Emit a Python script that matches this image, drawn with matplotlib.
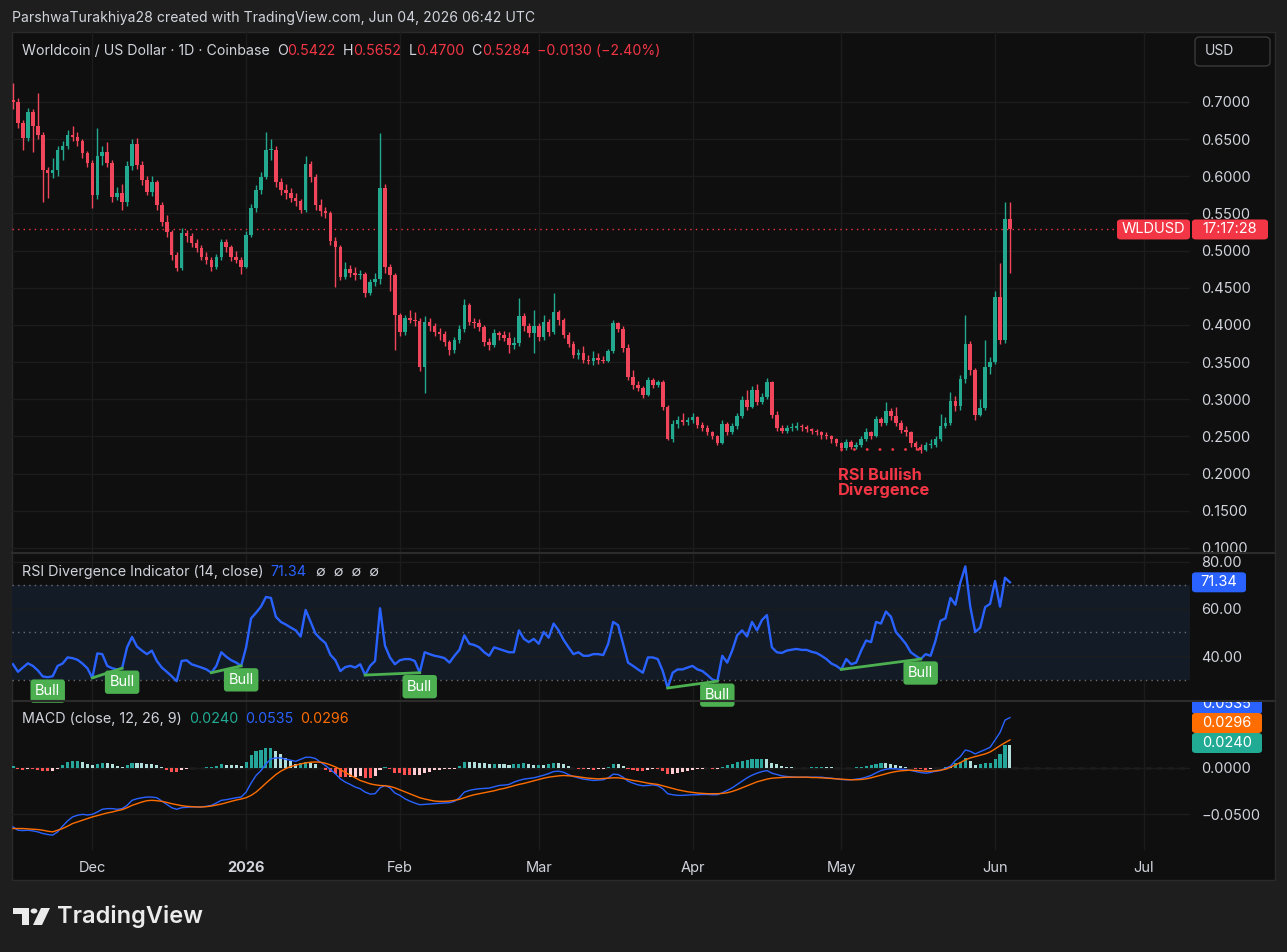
import matplotlib
matplotlib.use('Agg')
import matplotlib.pyplot as plt
import matplotlib.dates as mdates
import matplotlib.transforms as mtransforms
from matplotlib.patches import Rectangle, FancyBboxPatch, Circle, Polygon
import numpy as np
import pandas as pd

plt.rcParams['font.family'] = ['Inter', 'DejaVu Sans']

W, H = 1287, 952

# ---- data (daily candles, 2025-11-15 .. 2026-06-04) ----
first_open = 0.703
closes = [
    0.700, 0.672, 0.652, 0.687, 0.667, 0.655, 0.608, 0.604, 0.609, 0.635,
    0.640, 0.656, 0.653, 0.648, 0.631, 0.618, 0.575, 0.627, 0.632, 0.618,
    0.572, 0.577, 0.565, 0.614, 0.643, 0.615, 0.595, 0.579, 0.592, 0.561,
    0.538, 0.525, 0.494, 0.477, 0.523, 0.520, 0.510, 0.503, 0.492, 0.488,
    0.478, 0.491, 0.511, 0.505, 0.492, 0.488, 0.478, 0.521, 0.557, 0.582,
    0.599, 0.635, 0.635, 0.592, 0.582, 0.578, 0.571, 0.567, 0.555, 0.617,
    0.599, 0.561, 0.553, 0.550, 0.513, 0.505, 0.465, 0.475, 0.470, 0.467,
    0.468, 0.443, 0.458, 0.462, 0.584, 0.478, 0.467, 0.413, 0.390, 0.409,
    0.407, 0.405, 0.343, 0.404, 0.398, 0.390, 0.388, 0.377, 0.366, 0.380,
    0.394, 0.427, 0.404, 0.402, 0.397, 0.377, 0.373, 0.389, 0.386, 0.383,
    0.373, 0.376, 0.412, 0.398, 0.389, 0.398, 0.384, 0.404, 0.391, 0.418,
    0.407, 0.387, 0.375, 0.360, 0.362, 0.353, 0.352, 0.355, 0.353, 0.352,
    0.365, 0.403, 0.394, 0.369, 0.330, 0.319, 0.315, 0.306, 0.326, 0.319,
    0.323, 0.290, 0.247, 0.267, 0.272, 0.270, 0.272, 0.276, 0.266, 0.262,
    0.256, 0.250, 0.241, 0.267, 0.256, 0.264, 0.278, 0.299, 0.290, 0.312,
    0.296, 0.303, 0.323, 0.279, 0.262, 0.257, 0.262, 0.262, 0.264, 0.263,
    0.260, 0.257, 0.256, 0.252, 0.250, 0.246, 0.241, 0.234, 0.242, 0.236,
    0.239, 0.246, 0.256, 0.250, 0.273, 0.268, 0.284, 0.277, 0.268, 0.259,
    0.256, 0.241, 0.236, 0.232, 0.238, 0.239, 0.246, 0.264, 0.268, 0.298,
    0.291, 0.327, 0.374, 0.339, 0.279, 0.288, 0.343, 0.350, 0.438, 0.380,
    0.5422, 0.5284,
]
highs = [
    0.725, 0.705, 0.676, 0.692, 0.690, 0.712, 0.660, 0.612, 0.625, 0.640,
    0.648, 0.662, 0.668, 0.660, 0.650, 0.634, 0.622, 0.665, 0.640, 0.646,
    0.622, 0.585, 0.590, 0.620, 0.650, 0.652, 0.620, 0.600, 0.600, 0.595,
    0.565, 0.548, 0.528, 0.498, 0.530, 0.528, 0.524, 0.515, 0.507, 0.498,
    0.492, 0.496, 0.516, 0.515, 0.508, 0.500, 0.492, 0.526, 0.562, 0.588,
    0.606, 0.660, 0.650, 0.640, 0.598, 0.590, 0.584, 0.578, 0.570, 0.627,
    0.620, 0.603, 0.570, 0.558, 0.553, 0.518, 0.508, 0.485, 0.480, 0.478,
    0.474, 0.471, 0.462, 0.470, 0.658, 0.590, 0.482, 0.470, 0.416, 0.414,
    0.420, 0.418, 0.410, 0.412, 0.410, 0.402, 0.396, 0.392, 0.380, 0.384,
    0.400, 0.435, 0.430, 0.410, 0.408, 0.400, 0.382, 0.394, 0.392, 0.392,
    0.390, 0.384, 0.436, 0.416, 0.402, 0.420, 0.402, 0.414, 0.408, 0.443,
    0.420, 0.410, 0.390, 0.378, 0.368, 0.372, 0.360, 0.365, 0.362, 0.358,
    0.368, 0.406, 0.404, 0.398, 0.375, 0.340, 0.324, 0.318, 0.330, 0.328,
    0.326, 0.326, 0.292, 0.272, 0.278, 0.282, 0.276, 0.282, 0.278, 0.270,
    0.266, 0.258, 0.252, 0.272, 0.270, 0.268, 0.282, 0.305, 0.312, 0.318,
    0.320, 0.308, 0.329, 0.325, 0.284, 0.266, 0.266, 0.268, 0.270, 0.267,
    0.266, 0.262, 0.260, 0.258, 0.256, 0.252, 0.248, 0.243, 0.246, 0.245,
    0.243, 0.250, 0.262, 0.258, 0.278, 0.276, 0.296, 0.288, 0.290, 0.272,
    0.264, 0.258, 0.244, 0.240, 0.242, 0.246, 0.250, 0.280, 0.276, 0.310,
    0.304, 0.333, 0.414, 0.378, 0.342, 0.300, 0.380, 0.357, 0.446, 0.483,
    0.566, 0.5652,
]
lows = [
    0.690, 0.665, 0.635, 0.648, 0.632, 0.650, 0.565, 0.571, 0.598, 0.600,
    0.622, 0.637, 0.648, 0.640, 0.625, 0.612, 0.557, 0.570, 0.615, 0.612,
    0.565, 0.568, 0.555, 0.560, 0.608, 0.610, 0.588, 0.575, 0.574, 0.555,
    0.533, 0.518, 0.488, 0.472, 0.474, 0.512, 0.505, 0.498, 0.487, 0.482,
    0.473, 0.475, 0.488, 0.498, 0.486, 0.483, 0.468, 0.476, 0.518, 0.552,
    0.576, 0.596, 0.622, 0.585, 0.575, 0.570, 0.565, 0.560, 0.550, 0.552,
    0.592, 0.555, 0.547, 0.544, 0.508, 0.451, 0.460, 0.462, 0.464, 0.460,
    0.462, 0.437, 0.440, 0.452, 0.455, 0.470, 0.445, 0.366, 0.385, 0.386,
    0.402, 0.398, 0.338, 0.308, 0.392, 0.385, 0.380, 0.372, 0.360, 0.362,
    0.376, 0.390, 0.400, 0.396, 0.392, 0.372, 0.366, 0.370, 0.380, 0.378,
    0.362, 0.368, 0.372, 0.392, 0.384, 0.362, 0.378, 0.380, 0.385, 0.388,
    0.400, 0.382, 0.370, 0.355, 0.354, 0.349, 0.347, 0.346, 0.348, 0.349,
    0.350, 0.362, 0.390, 0.364, 0.326, 0.314, 0.311, 0.302, 0.304, 0.315,
    0.316, 0.286, 0.245, 0.242, 0.262, 0.266, 0.266, 0.268, 0.262, 0.258,
    0.252, 0.246, 0.238, 0.240, 0.252, 0.253, 0.260, 0.275, 0.286, 0.288,
    0.292, 0.294, 0.300, 0.275, 0.258, 0.254, 0.255, 0.258, 0.259, 0.258,
    0.256, 0.253, 0.252, 0.247, 0.246, 0.241, 0.237, 0.230, 0.232, 0.233,
    0.233, 0.236, 0.244, 0.247, 0.249, 0.264, 0.266, 0.272, 0.264, 0.255,
    0.250, 0.236, 0.232, 0.228, 0.230, 0.234, 0.236, 0.244, 0.262, 0.266,
    0.284, 0.286, 0.322, 0.332, 0.272, 0.277, 0.286, 0.334, 0.348, 0.375,
    0.376, 0.4700,
]
rsi = [
    36.5, 33.3, 35.1, 36.9, 35.8, 33.9, 31.3, 31.0, 31.4, 35.8,
    36.8, 39.4, 39.1, 38.4, 36.8, 34.8, 30.7, 41.1, 40.8, 35.8,
    34.8, 34.3, 34.8, 43.7, 48.1, 44.0, 42.3, 40.8, 42.3, 37.9,
    35.1, 33.3, 31.4, 29.3, 37.9, 38.2, 36.5, 35.8, 35.1, 34.3,
    32.9, 35.8, 41.6, 39.7, 38.2, 37.2, 35.8, 43.7, 56.0, 58.4,
    61.0, 65.1, 64.7, 56.7, 54.5, 53.4, 52.1, 50.9, 48.3, 59.6,
    54.5, 49.5, 47.3, 45.5, 40.5, 38.2, 33.6, 35.3, 35.8, 35.1,
    36.5, 31.9, 35.8, 37.9, 60.3, 44.4, 39.4, 36.5, 38.2, 38.7,
    38.7, 37.9, 32.9, 41.6, 40.8, 40.1, 39.7, 39.1, 37.2, 40.1,
    42.6, 48.8, 45.2, 44.7, 43.7, 41.6, 40.1, 43.7, 43.0, 42.3,
    41.6, 41.6, 50.9, 47.3, 45.9, 47.3, 45.2, 50.2, 47.8, 53.8,
    50.9, 46.9, 43.7, 40.8, 41.6, 40.1, 40.1, 40.8, 40.8, 40.4,
    45.2, 54.5, 53.1, 45.2, 37.2, 35.8, 34.3, 32.9, 39.4, 39.4,
    38.7, 33.6, 26.4, 32.9, 34.3, 34.3, 35.1, 35.8, 34.3, 33.6,
    31.9, 30.0, 29.3, 40.1, 37.2, 42.3, 48.8, 50.9, 48.3, 54.5,
    50.9, 55.3, 57.4, 43.7, 41.6, 41.3, 42.3, 42.7, 43.0, 42.6,
    42.6, 41.8, 41.3, 40.1, 38.7, 36.8, 35.8, 34.3, 38.7, 36.5,
    37.2, 42.3, 46.6, 45.9, 54.5, 53.8, 58.9, 56.7, 50.2, 47.8,
    45.2, 41.6, 40.1, 38.7, 40.8, 40.1, 46.6, 55.0, 56.0, 64.7,
    61.8, 71.2, 78.1, 61.0, 50.2, 52.1, 60.8, 62.2, 71.9, 61.0,
    73.3, 71.34,
]
macd = [
    -0.0635, -0.0671, -0.0675, -0.0671, -0.0678, -0.0689, -0.0706, -0.0717, -0.0724, -0.0689,
    -0.0628, -0.0572, -0.0529, -0.0511, -0.0501, -0.0508, -0.0501, -0.0476, -0.0447, -0.0440,
    -0.0440, -0.0447, -0.0440, -0.0405, -0.0351, -0.0334, -0.0323, -0.0316, -0.0316, -0.0323,
    -0.0359, -0.0394, -0.0430, -0.0447, -0.0430, -0.0426, -0.0422, -0.0422, -0.0422, -0.0415,
    -0.0405, -0.0380, -0.0351, -0.0344, -0.0334, -0.0323, -0.0316, -0.0263, -0.0167, -0.0085,
    -0.0032, 0.0039, 0.0092, 0.0103, 0.0103, 0.0089, 0.0078, 0.0067, 0.0089, 0.0110,
    0.0110, 0.0096, 0.0057, 0.0021, -0.0021, -0.0067, -0.0121, -0.0156, -0.0181, -0.0209,
    -0.0227, -0.0263, -0.0284, -0.0280, -0.0217, -0.0192, -0.0217, -0.0273, -0.0298, -0.0334,
    -0.0359, -0.0380, -0.0398, -0.0394, -0.0391, -0.0387, -0.0383, -0.0380, -0.0376, -0.0362,
    -0.0323, -0.0263, -0.0245, -0.0234, -0.0227, -0.0224, -0.0220, -0.0206, -0.0192, -0.0188,
    -0.0181, -0.0156, -0.0138, -0.0124, -0.0117, -0.0110, -0.0096, -0.0082, -0.0064, -0.0043,
    -0.0039, -0.0050, -0.0075, -0.0096, -0.0110, -0.0124, -0.0131, -0.0138, -0.0135, -0.0131,
    -0.0110, -0.0071, -0.0075, -0.0103, -0.0146, -0.0167, -0.0185, -0.0195, -0.0192, -0.0185,
    -0.0195, -0.0227, -0.0280, -0.0291, -0.0298, -0.0298, -0.0295, -0.0291, -0.0291, -0.0288,
    -0.0288, -0.0291, -0.0291, -0.0270, -0.0245, -0.0217, -0.0181, -0.0146, -0.0110, -0.0082,
    -0.0060, -0.0043, -0.0032, -0.0060, -0.0075, -0.0089, -0.0096, -0.0099, -0.0103, -0.0103,
    -0.0103, -0.0103, -0.0103, -0.0103, -0.0110, -0.0114, -0.0121, -0.0128, -0.0131, -0.0131,
    -0.0124, -0.0117, -0.0103, -0.0085, -0.0057, -0.0032, -0.0018, -0.0011, -0.0014, -0.0018,
    -0.0021, -0.0032, -0.0043, -0.0053, -0.0060, -0.0053, -0.0039, -0.0032, -0.0007, 0.0014,
    0.0075, 0.0117, 0.0188, 0.0174, 0.0146, 0.0170, 0.0192, 0.0217, 0.0295, 0.0376,
    0.0508, 0.0535,
]
signal = [
    -0.0653, -0.0653, -0.0653, -0.0657, -0.0660, -0.0664, -0.0671, -0.0682, -0.0689, -0.0671,
    -0.0653, -0.0628, -0.0600, -0.0582, -0.0564, -0.0547, -0.0529, -0.0515, -0.0501, -0.0486,
    -0.0476, -0.0462, -0.0451, -0.0430, -0.0405, -0.0387, -0.0369, -0.0355, -0.0351, -0.0355,
    -0.0362, -0.0373, -0.0387, -0.0398, -0.0408, -0.0415, -0.0419, -0.0422, -0.0422, -0.0419,
    -0.0412, -0.0401, -0.0391, -0.0376, -0.0362, -0.0348, -0.0337, -0.0323, -0.0298, -0.0263,
    -0.0217, -0.0167, -0.0121, -0.0075, -0.0039, -0.0011, 0.0011, 0.0025, 0.0039, 0.0050,
    0.0057, 0.0060, 0.0057, 0.0046, 0.0028, 0.0007, -0.0021, -0.0053, -0.0082, -0.0110,
    -0.0138, -0.0156, -0.0174, -0.0185, -0.0192, -0.0195, -0.0202, -0.0217, -0.0238, -0.0259,
    -0.0280, -0.0302, -0.0323, -0.0337, -0.0348, -0.0359, -0.0362, -0.0362, -0.0359, -0.0351,
    -0.0341, -0.0323, -0.0305, -0.0291, -0.0280, -0.0270, -0.0259, -0.0249, -0.0234, -0.0224,
    -0.0209, -0.0195, -0.0181, -0.0170, -0.0156, -0.0142, -0.0128, -0.0114, -0.0103, -0.0096,
    -0.0089, -0.0085, -0.0089, -0.0092, -0.0099, -0.0107, -0.0114, -0.0117, -0.0121, -0.0117,
    -0.0114, -0.0110, -0.0110, -0.0117, -0.0128, -0.0138, -0.0146, -0.0156, -0.0167, -0.0174,
    -0.0181, -0.0195, -0.0209, -0.0224, -0.0238, -0.0249, -0.0259, -0.0266, -0.0273, -0.0277,
    -0.0280, -0.0280, -0.0280, -0.0277, -0.0270, -0.0256, -0.0238, -0.0217, -0.0195, -0.0174,
    -0.0153, -0.0138, -0.0124, -0.0114, -0.0110, -0.0107, -0.0103, -0.0103, -0.0103, -0.0103,
    -0.0103, -0.0107, -0.0107, -0.0110, -0.0114, -0.0117, -0.0121, -0.0124, -0.0128, -0.0131,
    -0.0131, -0.0128, -0.0121, -0.0110, -0.0096, -0.0082, -0.0067, -0.0053, -0.0043, -0.0035,
    -0.0032, -0.0028, -0.0032, -0.0035, -0.0039, -0.0039, -0.0035, -0.0028, -0.0018, 0.0004,
    0.0028, 0.0053, 0.0082, 0.0103, 0.0117, 0.0131, 0.0146, 0.0167, 0.0199, 0.0234,
    0.0266, 0.0296,
]

# divergence pivots (candle index, rsi) and label anchors
div_lines = [((16, 30.7), (22, 34.8)), ((40, 32.9), (46, 35.8)), ((71, 31.9), (82, 32.9)),
             ((132, 26.4), (142, 29.3)), ((167, 34.3), (183, 38.7))]
bull_labels = [(7, 31.0), (22, 34.8), (46, 35.8), (82, 32.9), (142, 29.3), (183, 38.7)]

month_dates = ['2025-12-01', '2026-01-01', '2026-02-01', '2026-03-01',
               '2026-04-01', '2026-05-01', '2026-06-01', '2026-07-01']
month_labels = ['Dec', '2026', 'Feb', 'Mar', 'Apr', 'May', 'Jun', 'Jul']
price_ticks = [0.10, 0.15, 0.20, 0.25, 0.30, 0.35, 0.40, 0.45, 0.50, 0.55, 0.60, 0.65, 0.70]

# ---- colours ----
BG_OUT = '#1e1e1e'
BG = '#0f0f0f'
GRID = '#1c1c1c'
TXT = '#d1d4dc'
UP = '#22a98f'
DOWN = '#f0455a'
RED = '#f23645'
BLUE = '#2962ff'
ORANGE = '#ff6d00'
TEAL = '#22ab94'


def fx(px):
    return px / W


def fy(py):
    return 1 - py / H


def chain_text(fig, x, y, parts, size):
    renderer = fig.canvas.get_renderer()
    for s, c, gap in parts:
        t = fig.text(fx(x), fy(y), s, color=c, fontsize=size, ha='left', va='center')
        x += t.get_window_extent(renderer).width + gap


def px_box(fig, x0, y0, w, h, fc, text, tc='white', size=10.5, clip=None):
    box = FancyBboxPatch((fx(x0), fy(y0 + h)), w / W, h / H, transform=fig.transFigure,
                         boxstyle='round,pad=0,rounding_size=0.003', fc=fc, ec='none', zorder=20)
    fig.add_artist(box)
    t = fig.text(fx(x0 + w / 2), fy(y0 + h / 2), text, color=tc, fontsize=size,
                 ha='center', va='center', zorder=21)
    if clip is not None:
        box.set_clip_box(clip)
        t.set_clip_box(clip)
        t.set_clip_on(True)


fig = plt.figure(figsize=(W / 100, H / 100), dpi=100, facecolor=BG_OUT)
fig.add_artist(Rectangle((fx(12), fy(880)), (1275 - 12) / W, (880 - 32) / H,
                         transform=fig.transFigure, fc=BG, ec='#2a2a2a', lw=1, zorder=0))

left, width = fx(12), (1190 - 12) / W
ax1 = fig.add_axes([left, fy(552), width, (552 - 32) / H])
ax2 = fig.add_axes([left, fy(700), width, (700 - 553) / H], sharex=ax1)
ax3 = fig.add_axes([left, fy(850), width, (850 - 702) / H], sharex=ax1)

dates = pd.date_range('2025-11-15', periods=len(closes), freq='D')
x = mdates.date2num(dates)
month_x = mdates.date2num(pd.to_datetime(month_dates))
opens = [first_open] + closes[:-1]

for ax in (ax1, ax2, ax3):
    ax.set_facecolor('none')
    for s in ax.spines.values():
        s.set_visible(False)
    for m in month_x:
        ax.axvline(m, color=GRID, lw=1, zorder=0)
    ax.yaxis.tick_right()
    ax.tick_params(axis='y', length=0, pad=8, labelsize=10.5, labelcolor=TXT)
    ax.tick_params(axis='x', length=0)
    ax.grid(axis='y', color=GRID, lw=1, zorder=0)
ax1.set_xlim(x[0] - 0.2, x[0] + 237.3)

# ---- price pane ----
o = np.array(opens)
c = np.array(closes)
cols = [UP if cc >= oo else DOWN for oo, cc in zip(o, c)]
ax1.vlines(x, lows, highs, colors=cols, lw=1, zorder=3)
body_h = np.maximum(np.abs(c - o), 0.0012)
ax1.bar(x, body_h, bottom=np.minimum(o, c), width=0.72, color=cols, zorder=4)
ax1.set_ylim(0.0946, 0.794)
ax1.set_yticks(price_ticks)
ax1.set_yticklabels([f'{v:.4f}' for v in price_ticks])
ax1.tick_params(axis='x', labelbottom=False)
ax1.axhline(closes[-1], xmax=(1118 - 12) / 1178, color=RED, lw=1, ls=(0, (1, 3)), zorder=2)
ax1.plot([x[167], x[183]], [0.2325, 0.2325], color=RED, lw=2, ls=(0, (0.1, 4.5)),
         dash_capstyle='round', zorder=5)
ax1.text(x[167] - 0.6, 0.2075, 'RSI Bullish\nDivergence', color=RED, fontsize=11.8,
         fontweight='bold', ha='left', va='top', linespacing=0.98, zorder=6)

# ---- RSI pane ----
ax2.axhspan(30, 70, color='#121b26', zorder=0, lw=0)
for lvl in (70, 50, 30):
    ax2.axhline(lvl, color='#6a6d78', lw=1, ls=(0, (1, 3)), zorder=1)
ax2.plot(x, rsi, color=BLUE, lw=1.7, zorder=3)
for (i0, r0), (i1, r1) in div_lines:
    ax2.plot([x[i0], x[i1]], [r0, r1], color='#4caf50', lw=2, zorder=4)
for i, r in bull_labels:
    ax2.annotate('Bull', (x[i], r), xytext=(0, -5), textcoords='offset points',
                 ha='center', va='top', color='white', fontsize=10.5, zorder=6,
                 bbox=dict(boxstyle='round,pad=0.32,rounding_size=0.2', fc='#4caf50', ec='none'),
                 annotation_clip=False)
ax2.set_ylim(21.3, 83.8)
ax2.set_yticks([40, 60, 80])
ax2.set_yticklabels(['40.00', '60.00', '80.00'])
ax2.tick_params(axis='x', labelbottom=False)

# ---- MACD pane ----
hist = np.array(macd) - np.array(signal)
hcols = []
for k, h in enumerate(hist):
    prev = hist[k - 1] if k > 0 else h
    if h >= 0:
        hcols.append('#26a69a' if h >= prev else '#b2dfdb')
    else:
        hcols.append('#ff5252' if h < prev else '#ffcdd2')
ax3.axhline(0, color='#4a4a4a', lw=1, ls=(0, (4, 4)), zorder=1)
ax3.bar(x, hist, width=0.62, color=hcols, zorder=2)
ax3.plot(x, macd, color=BLUE, lw=1, zorder=3)
ax3.plot(x, signal, color=ORANGE, lw=1, zorder=3)
ax3.set_ylim(-0.0883, 0.0702)
ax3.set_yticks([-0.05, 0.0])
ax3.set_yticklabels(['\u22120.0500', '0.0000'])
ax3.set_xticks(month_x)
ax3.set_xticklabels(month_labels)
ax3.tick_params(axis='x', pad=8, labelsize=10.5, labelcolor=TXT)
ax3.get_xticklabels()[1].set_fontweight('bold')

# pane separators
for yy in (552.5, 701):
    fig.add_artist(plt.Line2D([fx(12), fx(1275)], [fy(yy), fy(yy)], transform=fig.transFigure,
                              color='#2c2c2c', lw=1.5, zorder=10))

# ---- texts ----
fig.text(fx(12), fy(18), 'ParshwaTurakhiya28 created with TradingView.com, Jun 04, 2026 06:42 UTC',
         color=TXT, fontsize=10.1, ha='left', va='center')
chain_text(fig, 22, 51, [('Worldcoin / US Dollar \u00b7 1D \u00b7 Coinbase', TXT, 7),
                         ('O', TXT, 0), ('0.5422', RED, 7), ('H', TXT, 0), ('0.5652', RED, 7),
                         ('L', TXT, 0), ('0.4700', RED, 7), ('C', TXT, 0), ('0.5284', RED, 7),
                         ('\u22120.0130 (\u22122.40%)', RED, 0)], 10.2)
chain_text(fig, 22, 572, [('RSI Divergence Indicator (14, close)', TXT, 7),
                          ('71.34', BLUE, 9), ('\u2205  \u2205  \u2205  \u2205', TXT, 0)], 10.3)
chain_text(fig, 22, 719, [('MACD (close, 12, 26, 9)', TXT, 7), ('0.0240', TEAL, 7),
                          ('0.0535', BLUE, 7), ('0.0296', ORANGE, 0)], 10.3)

# USD button
fig.add_artist(FancyBboxPatch((fx(1195), fy(66)), 75 / W, 29 / H, transform=fig.transFigure,
                              boxstyle='round,pad=0,rounding_size=0.004', fc=BG, ec='#3a3a3a', lw=1))
fig.text(fx(1205), fy(51), 'USD', color=TXT, fontsize=10, ha='left', va='center')

# right-axis tags
py_last = H - ax1.transData.transform((x[-1], closes[-1]))[1]
px_box(fig, 1117, py_last - 10, 73, 20, RED, 'WLDUSD')
px_box(fig, 1192, py_last - 10, 76, 20, RED, '17:17:28')
py_rsi = H - ax2.transData.transform((x[-1], rsi[-1]))[1]
px_box(fig, 1192, py_rsi - 10, 54, 20, BLUE, '71.34')
clip = mtransforms.Bbox.from_extents(1190, H - 850, W, H - 702)
px_box(fig, 1192, 694, 70, 20, BLUE, '0.0535', clip=clip)
px_box(fig, 1192, 713, 70, 20, ORANGE, '0.0296')
px_box(fig, 1192, 733, 70, 20, TEAL, '0.0240')

# TradingView logo
fig.add_artist(Polygon([(fx(13), fy(908)), (fx(29), fy(908)), (fx(29), fy(925)),
                        (fx(22), fy(925)), (fx(22), fy(914)), (fx(13), fy(914))],
                       closed=True, transform=fig.transFigure, fc='#ebebeb', ec='none'))
fig.add_artist(Circle((fx(34), fy(911)), 3.4 / W, transform=fig.transFigure, fc='#ebebeb', ec='none'))
fig.add_artist(Polygon([(fx(41), fy(908)), (fx(50), fy(908)), (fx(42), fy(925)), (fx(33), fy(925))],
                       closed=True, transform=fig.transFigure, fc='#ebebeb', ec='none'))
fig.text(fx(57), fy(916), 'TradingView', color='#ebebeb', fontsize=17, fontweight='semibold',
         ha='left', va='center')

fig.savefig('out.png', dpi=100, facecolor=BG_OUT)
